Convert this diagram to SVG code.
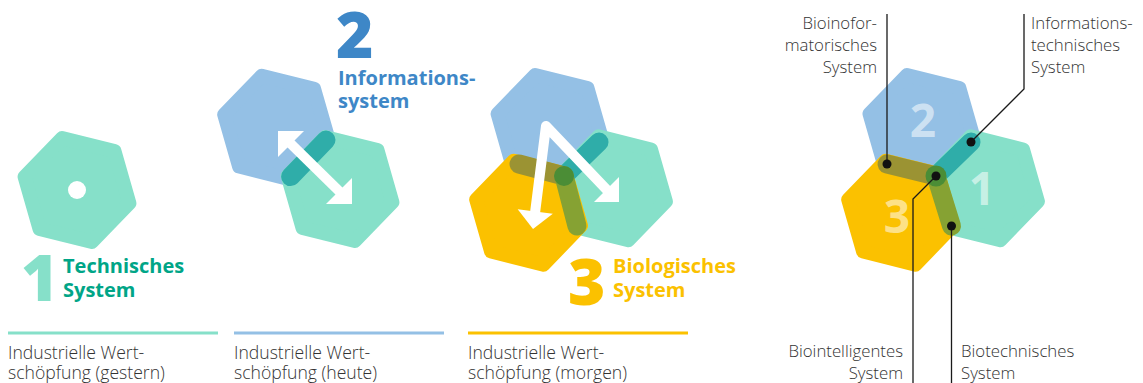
<svg xmlns="http://www.w3.org/2000/svg" xmlns:xlink="http://www.w3.org/1999/xlink" width="1143" height="383" viewBox="0 0 1143 383">
<style>
.hex{stroke-width:14;stroke-linejoin:round}
.g{fill:#86e0c9;stroke:#86e0c9}
.b{fill:#94c0e5;stroke:#94c0e5}
.y{fill:#fbc100;stroke:#fbc100}
.cap{fill:none;stroke-width:19;stroke-linecap:round}
.arrow{fill:none;stroke:#fff;stroke-width:10;stroke-linejoin:round}
.head{fill:#fff}
.lbl{font-family:"Open Sans","Noto Sans",sans-serif;font-size:17.6px;font-weight:300;fill:#333}
.rl{font-family:"Open Sans","Noto Sans",sans-serif;font-size:16.8px;font-weight:300;fill:#333}
.ttl{font-family:"Open Sans","Noto Sans",sans-serif;font-size:20px;font-weight:700}
.big{font-family:"Open Sans","Noto Sans",sans-serif;font-size:64px;font-weight:800}
.num{font-family:"Open Sans","Noto Sans",sans-serif;font-size:46px;font-weight:700;fill:#fff;fill-opacity:.55;text-anchor:middle}
.lead{fill:none;stroke:#1a1a1a;stroke-width:1.3}
</style>
<defs>
<path id="hex" d="M52.4,13.06 L14.88,51.91 L-37.51,38.84 L-52.4,-13.06 L-14.88,-51.91 L37.51,-38.84 Z"/>
</defs>

<g id="node-technisches-system">
<use href="#hex" x="77" y="190" class="hex g"/>
<circle cx="77" cy="190" r="9" fill="#fff"/>
<text class="big" x="21" y="301" fill="#86e0c9">1</text>
<text class="ttl" fill="#00a587" font-size="19"><tspan x="63" y="273">Technisches</tspan><tspan x="63" y="297">System</tspan></text>
</g>

<g id="node-informationssystem">
<use href="#hex" x="276.6" y="127.7" class="hex b"/>
<use href="#hex" x="340" y="189" class="hex g"/>
<line x1="290.6" y1="176.6" x2="326" y2="140" class="cap" stroke="#2fada9"/>
<text class="big" x="336" y="58" fill="#3e87c7" font-size="60">2</text>
<text class="ttl" fill="#3e87c7"><tspan x="338" y="85">Informations-</tspan><tspan x="338" y="108">system</tspan></text>
</g>

<g id="node-biologisches-system">
<use href="#hex" x="550" y="127" class="hex b"/>
<use href="#hex" x="613.5" y="188.3" class="hex g"/>
<use href="#hex" x="528.6" y="212.7" class="hex y"/>
<line x1="564" y1="176" x2="599" y2="142" class="cap" stroke="#2fada9"/>
<line x1="564" y1="176" x2="519" y2="164" class="cap" stroke="#9b9333"/>
<line x1="564" y1="176" x2="577" y2="226" class="cap" stroke="#86a233"/>
<circle cx="564" cy="176" r="10" fill="#4b8d36"/>
<text class="big" x="568" y="305" fill="#fbc100">3</text>
<text class="ttl" fill="#fbc100"><tspan x="613" y="273">Biologisches</tspan><tspan x="613" y="297">System</tspan></text>
</g>

<g id="node-kombination">
<use href="#hex" x="921.9" y="127" class="hex b"/>
<use href="#hex" x="985.5" y="188.3" class="hex g"/>
<use href="#hex" x="900.6" y="212.7" class="hex y"/>
<line x1="936" y1="176" x2="971" y2="142" class="cap" stroke="#2fada9"/>
<line x1="936" y1="176" x2="887" y2="164" class="cap" stroke="#9b9333"/>
<line x1="936" y1="176" x2="951.5" y2="226" class="cap" stroke="#86a233"/>
<circle cx="936" cy="176" r="10.5" fill="#4b8d36"/>
<text class="num" x="923" y="137">2</text>
<text class="num" x="982" y="205">1</text>
<text class="num" x="897" y="233">3</text>
</g>

<g id="connectors">
<line x1="289" y1="142" x2="341" y2="193" class="arrow"/>
<polygon class="head" points="278,131 278,157 304,131"/>
<polygon class="head" points="352,204 352,178 326,204"/>
<polyline points="535,213 546,126 607,190" class="arrow"/>
<polygon class="head" points="533,229 552.8,213.7 517.7,209.2"/>
<polygon class="head" points="619,202 619,177 594,202"/>
<path class="lead" d="M887,14 V164"/>
<path class="lead" d="M971,142 L1024,89 V14"/>
<path class="lead" d="M936,176 L913,199 V383"/>
<path class="lead" d="M951.5,226 V383"/>
<circle cx="887" cy="164" r="4.5" fill="#111"/>
<circle cx="971" cy="142" r="4.5" fill="#111"/>
<circle cx="936" cy="176" r="4.5" fill="#111"/>
<circle cx="951.5" cy="226" r="4.5" fill="#111"/>
</g>

<g id="labels-right">
<text class="rl" text-anchor="end"><tspan x="877" y="29">Bioinofor-</tspan><tspan x="877" y="51">matorisches</tspan><tspan x="877" y="73">System</tspan></text>
<text class="rl"><tspan x="1031" y="29">Informations-</tspan><tspan x="1031" y="51">technisches</tspan><tspan x="1031" y="73">System</tspan></text>
<text class="rl" text-anchor="end"><tspan x="903" y="357">Biointelligentes</tspan><tspan x="903" y="379">System</tspan></text>
<text class="rl"><tspan x="961" y="357">Biotechnisches</tspan><tspan x="961" y="379">System</tspan></text>
</g>

<g id="timeline">
<line x1="8" y1="333" x2="218" y2="333" stroke="#86e0c9" stroke-width="3"/>
<line x1="234" y1="333" x2="444" y2="333" stroke="#94c0e5" stroke-width="3"/>
<line x1="468" y1="333" x2="688" y2="333" stroke="#fbc100" stroke-width="3"/>
<text class="lbl"><tspan x="8" y="359">Industrielle Wert-</tspan><tspan x="8" y="379">schöpfung (gestern)</tspan></text>
<text class="lbl"><tspan x="234" y="359">Industrielle Wert-</tspan><tspan x="234" y="379">schöpfung (heute)</tspan></text>
<text class="lbl"><tspan x="468" y="359">Industrielle Wert-</tspan><tspan x="468" y="379">schöpfung (morgen)</tspan></text>
</g>
</svg>
